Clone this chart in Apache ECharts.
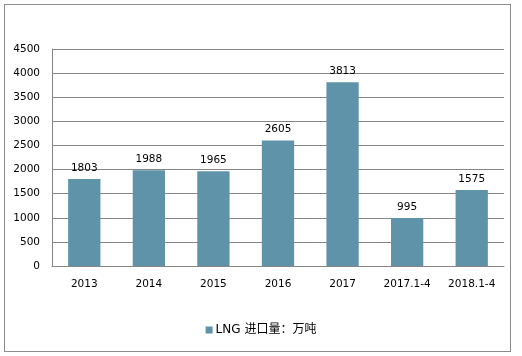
<!DOCTYPE html>
<html><head><meta charset="utf-8">
<script src="https://cdn.jsdelivr.net/npm/echarts@6/dist/echarts.min.js"></script>
<style>html,body{margin:0;padding:0;background:#fff}#c{width:522px;height:356px}
#frame{position:absolute;left:4px;top:4px;width:505px;height:346px;border:1px solid #8c8c8c;pointer-events:none}</style>
</head><body><div id="c"></div><div id="frame"></div>
<script>
var categories = ['2013','2014','2015','2016','2017','2017.1-4','2018.1-4'];
var values = [1803,1988,1965,2605,3813,995,1575];
var seriesName = 'LNG 进口量：万吨';
var font = '"DejaVu Sans", "Noto Sans CJK SC", sans-serif';
var chart = echarts.init(document.getElementById('c'));
chart.setOption({
  animation:false,
  grid:{left:52,right:18,top:49,bottom:90,containLabel:false},
  legend:{bottom:15,left:'center',itemWidth:7,itemHeight:7,icon:'rect',itemGap:4,
    textStyle:{fontFamily:font,fontSize:12,color:'#000',padding:[0,0,0,-2]},data:[seriesName]},
  xAxis:{type:'category',data:categories,
    axisLine:{lineStyle:{color:'#868686'}},axisTick:{show:false},
    axisLabel:{fontFamily:font,fontSize:10.5,color:'#000',margin:13,interval:0}},
  yAxis:{type:'value',min:0,max:4500,interval:500,
    axisLine:{show:true,lineStyle:{color:'#868686'}},axisTick:{show:false},
    splitLine:{lineStyle:{color:'#868686'}},
    axisLabel:{fontFamily:font,fontSize:10.5,color:'#000',margin:12,formatter:function(v){return String(v);}}},
  series:[{name:seriesName,type:'bar',data:values,barWidth:'50%',
    itemStyle:{color:'#5E93A9'},
    label:{show:true,position:'top',fontFamily:font,fontSize:10.5,color:'#000',distance:6}}]
});
</script></body></html>
